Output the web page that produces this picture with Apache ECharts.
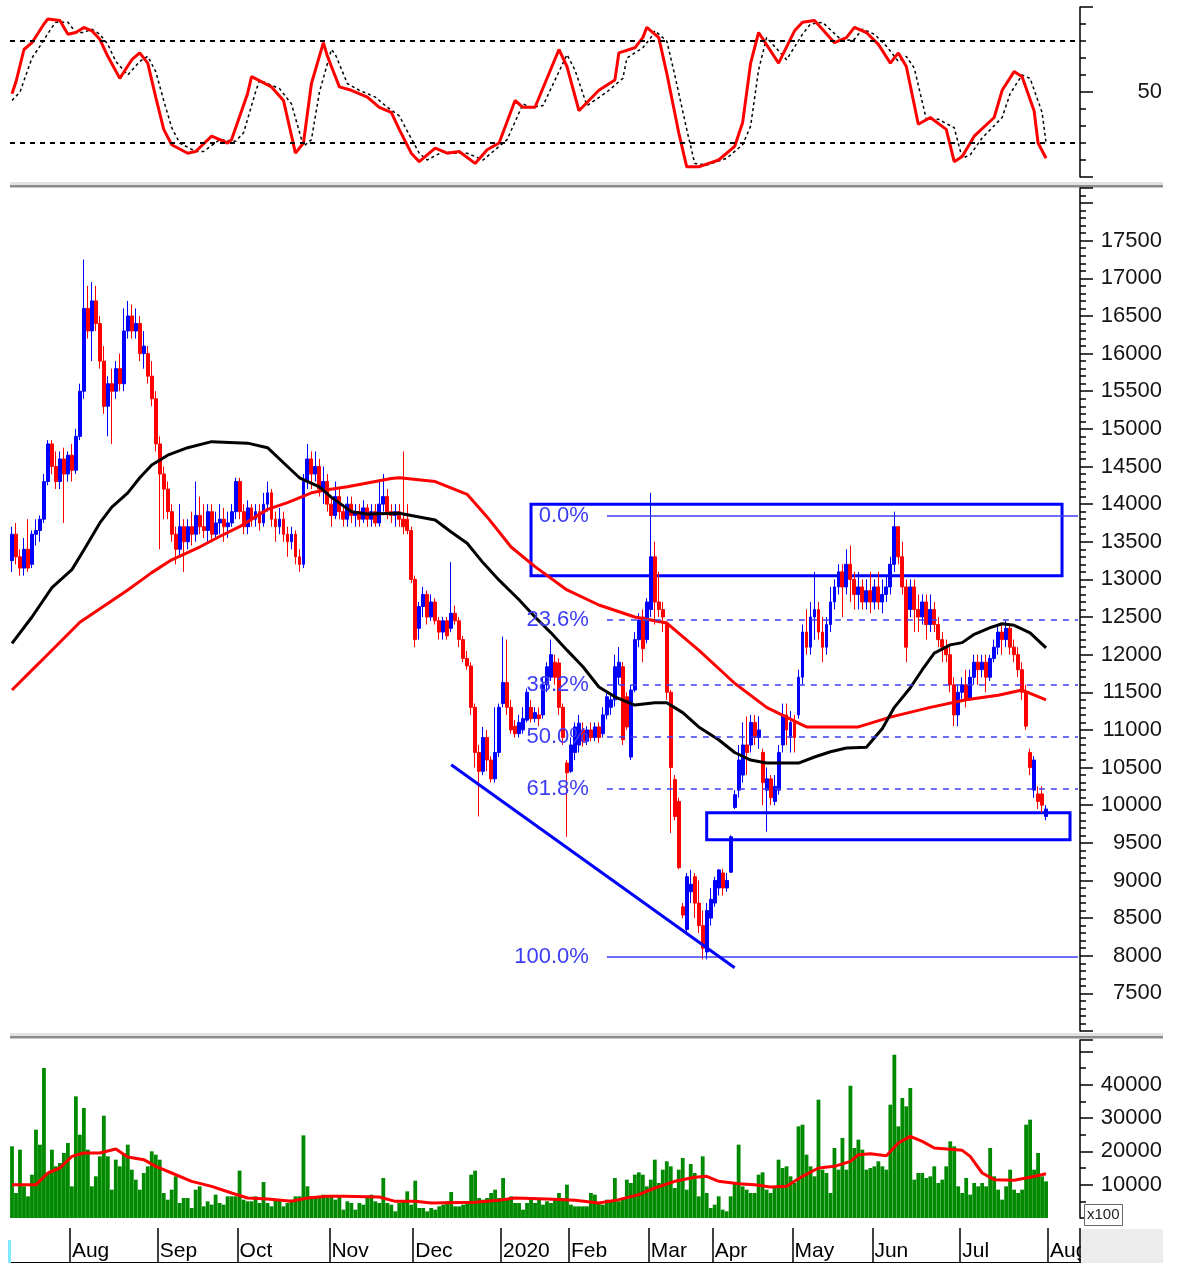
<!DOCTYPE html>
<html>
<head>
<meta charset="utf-8">
<title>Price chart</title>
<script src="https://cdn.jsdelivr.net/npm/echarts@6.0.0/dist/echarts.min.js"></script>
<style>
  html, body { margin: 0; padding: 0; background: #fff; }
  #main { width: 1180px; height: 1263px; }
</style>
</head>
<body>
<div id="main"></div>
<script>
// months shown on the time axis and trading days in each (last one is empty space)
var monthNames = ['Jul', 'Aug', 'Sep', 'Oct', 'Nov', 'Dec', '2020', 'Feb', 'Mar', 'Apr', 'May', 'Jun', 'Jul', 'Aug'];
var monthDays  = [15, 22, 20, 23, 21, 22, 17, 20, 16, 20, 20, 22, 22, 8];

// daily candles, one row per month
var opens = [
  13250,13600,13300,13150,13400,13200,13600,13650,13800,14300,14800,14500,14300,14600,14400,
  14650,14450,14900,15500,16600,16300,16700,16400,15900,15300,15600,15500,15800,15600,16300,16500,16300,16400,16000,16000,15700,15400,
  14800,14400,14200,13900,13600,13400,13700,13500,13700,13600,13850,13700,13650,13900,13600,13750,13800,13700,13750,13900,
  14300,13900,13700,13950,13800,13900,13750,14000,14150,13800,13700,13800,13600,13500,13600,13300,13200,14300,14600,14400,14500,14200,14300,
  14000,13850,14100,13900,13800,14000,13850,13900,13800,13950,13800,13900,13750,14000,14100,13900,13850,13900,13800,13800,13650,
  13000,12350,12640,12800,12500,12700,12450,12300,12450,12350,12550,12450,12200,11950,11850,11300,10700,10450,10900,10600,10350,10700,
  11350,11630,11300,11050,10950,11000,11130,11300,11150,11200,11200,11600,11700,11900,11890,11300,10560,
  10450,10700,10800,11000,10850,11000,10900,11040,10950,11200,11300,11400,11700,11840,11440,10640,11530,12200,12500,12200,
  12600,13300,12700,12600,12400,11500,10340,10050,8650,8350,8850,9050,8700,8400,8050,8500,
  8700,8900,9100,8900,9110,9970,10200,10400,10800,10800,11100,10900,10700,10200,10350,10050,10200,10800,11200,10900,
  11100,11200,11700,12300,12100,12500,12600,12300,12100,12400,12700,12900,13100,12900,13200,13000,12800,12900,12700,12850,
  12700,12900,12700,12800,12900,13200,13700,13300,12900,12600,12900,12600,12500,12700,12400,12600,12400,12200,12100,12000,11600,11200,
  11500,11600,11400,11700,11900,11800,11900,11700,11950,12100,12300,12200,12350,12100,12000,11800,11500,10700,10200,10150,10150,9850
];
var closes = [
  13600,13300,13150,13400,13150,13600,13650,13800,14300,14800,14500,14300,14600,14400,14650,
  14450,14900,15500,16600,16300,16700,16400,15900,15300,15600,15500,15800,15600,16300,16500,16300,16400,16000,16100,15700,15400,14800,
  14400,14200,13900,13600,13400,13700,13500,13700,13600,13850,13700,13650,13900,13600,13750,13800,13700,13750,13900,14300,
  13900,13700,13950,13800,13900,13750,14000,14150,13800,13700,13800,13600,13500,13600,13300,13200,14300,14600,14400,14500,14200,14300,14000,
  13850,14100,13900,13800,14000,13850,13900,13800,13950,13800,13900,13750,14000,14100,13900,13850,13900,13800,13700,13650,13000,
  12200,12640,12800,12500,12700,12450,12300,12450,12250,12550,12450,12200,11950,11850,11300,10700,10450,10900,10600,10350,10700,11300,
  11630,11300,11000,10950,11100,11150,11500,11150,11230,11150,11600,11840,12000,11700,11300,10900,10430,
  10800,11040,11090,10850,11000,10900,11040,10900,11200,11440,11400,11840,11900,10870,11040,11530,12200,12460,12080,12700,
  13300,12700,12600,12500,11500,10500,9850,9170,8540,9050,8950,8700,8400,8100,8600,8750,
  9000,9140,8900,9000,9580,10140,10600,10800,10700,11100,10900,11000,10300,10350,10100,10250,10700,11200,11000,11100,
  10900,11700,12300,12100,12500,12600,12300,12100,12400,12700,12900,13100,12900,13200,13000,12800,12900,12700,12850,12700,
  12900,12700,12800,12900,13200,13700,13300,12900,12100,12900,12600,12500,12700,12400,12600,12400,12200,12100,12000,11600,11200,11500,
  11600,11400,11700,11900,11800,11900,11700,11950,12100,12300,12200,12350,12100,12000,11800,11500,11050,10500,10600,10050,10000,9950
];
var lows = [
  13100,13200,13050,13050,13100,13150,13450,13500,13750,14250,14400,14200,14200,13750,14300,
  14300,14400,14850,15400,16200,15900,16300,15800,15200,14900,14800,15400,15500,15500,16200,16200,16200,15900,15800,15600,15300,14700,
  13400,13800,13800,13500,13200,13300,13100,13400,13450,13500,13600,13550,13500,13500,13550,13600,13500,13550,13700,13800,
  13800,13600,13600,13700,13700,13650,13700,13900,13700,13500,13600,13500,13300,13400,13200,13100,13150,14200,14200,14300,14100,14000,13900,
  13700,13800,13800,13700,13700,13750,13700,13700,13750,13700,13700,13700,13700,13900,13800,13750,13700,13700,13600,13600,12950,
  12100,12200,12500,12400,12450,12400,12200,12200,12200,12300,12400,12100,11900,11800,11200,10500,9850,10400,10450,10300,10300,10640,
  11300,11200,10950,10900,10900,10950,11100,11100,11100,11050,11150,11500,11650,11600,11200,10800,9580,
  10430,10600,10700,10780,10800,10850,10850,10830,10900,11140,11200,11310,11600,10800,11000,10600,11500,12100,11900,12150,
  12500,12400,12500,12300,11400,9630,9800,9150,8500,8300,8700,8500,8300,7950,7950,8400,
  8650,8800,8800,8850,9100,9950,10100,10300,10400,10700,10800,10750,10000,9650,10000,10000,10140,10700,10800,10700,
  10700,11150,11600,12000,12000,12200,12200,11900,12000,12300,12600,12800,12500,12800,12700,12600,12600,12600,12600,12550,
  12600,12600,12550,12700,12800,13100,13200,12800,11900,12500,12300,12300,12400,12200,12300,12300,12100,11900,11900,11500,11050,11050,
  11400,11300,11400,11600,11600,11700,11500,11650,11900,12000,12000,12100,12000,11900,11700,11400,11000,10400,10100,9950,9900,9800
];
var highs = [
  13700,13750,13400,13550,13800,13650,13800,13850,14400,14850,14850,14700,14700,14750,14700,
  14800,15000,15600,17250,16900,16950,16900,16500,16100,15700,15800,15900,16000,16600,16700,16650,16600,16500,16300,16100,15900,15500,
  14900,14500,14300,14000,13700,14000,13800,13800,13900,14300,14100,14000,14000,14000,13900,14000,13950,13900,14000,14350,
  14350,14000,14050,14000,14000,14000,14150,14300,14200,13900,13950,13900,13700,13700,13650,13400,14400,14800,14700,14700,14600,14500,14400,
  14100,14300,14200,14000,14100,14100,14000,14000,14050,14000,14000,14000,14300,14400,14200,14000,14000,14000,14700,14000,13700,
  13050,12700,12900,12850,12800,12750,12500,12500,12500,13230,12650,12500,12250,12050,11900,11350,10800,11040,11000,10650,11300,11350,
  12240,12200,11400,11130,11200,11300,11550,11400,11300,11300,11700,11900,12200,12000,11950,11350,10600,
  10900,11100,11200,11100,11050,11100,11100,11100,11300,11500,11500,12000,12100,11900,11500,11600,12300,12550,12600,12750,
  14150,13500,13100,12700,12450,11530,10400,10100,8700,9100,9140,9100,9000,8600,8700,8900,
  9050,9150,9150,9100,9600,10200,10800,11100,11180,11200,11200,11180,10750,10500,10400,10400,10800,11350,11350,11250,
  11200,11800,12400,12600,12700,13100,12700,12500,12500,12900,13000,13200,13200,13400,13450,13100,13100,13000,13000,13100,
  13000,13100,13000,13050,13300,13900,13700,13500,13000,13000,13000,12800,12800,12800,12800,12700,12500,12300,12200,12100,11700,11600,
  11700,11800,11800,12000,12000,12000,12000,12000,12200,12400,12400,12450,12400,12200,12100,11900,11600,10750,10650,10250,10250,10000
];

// moving averages on the price panel, read as [day, value]
var maBlack = [[0,12150],[5,12500],[10,12890],[15,13130],[18,13390],[22,13750],[25,13960],[29,14150],[32,14350],[35,14520],
  [39,14650],[44,14750],[50,14830],[59,14810],[64,14750],[69,14500],[72,14350],[77,14230],[80,14090],[85,13900],[89,13870],
  [97,13880],[106,13790],[110,13630],[114,13480],[118,13220],[122,12990],[127,12730],[131,12500],[135,12290],[139,12060],
  [143,11840],[147,11570],[151,11440],[156,11330],[161,11360],[164,11360],[168,11230],[172,11040],[177,10870],[181,10700],
  [185,10600],[189,10560],[197,10560],[201,10640],[205,10710],[209,10760],[214,10770],[218,11020],[221,11300],[225,11560],
  [228,11800],[231,12020],[235,12130],[238,12160],[241,12270],[245,12360],[248,12410],[251,12390],[255,12290],[259,12090]];
var maRed = [[0,11530],[7,11900],[17,12430],[29,12860],[35,13090],[40,13260],[47,13430],[52,13570],[57,13700],[64,13930],
  [69,14020],[75,14150],[79,14190],[84,14230],[89,14280],[95,14340],[97,14350],[106,14300],[114,14130],[119,13830],
  [125,13430],[131,13170],[139,12860],[147,12660],[156,12500],[164,12420],[172,12060],[181,11620],[189,11300],[197,11090],
  [199,11040],[212,11040],[220,11170],[230,11300],[239,11400],[247,11460],[253,11530],[259,11400]];

// oscillator (top panel), fast line and its dashed signal
var oscFast = [[0,49],[1,56],[3,75],[5,79],[8,90],[9,93],[12,92],[14,84],[16,85],[18,88],[20,86],[22,81],[24,71],[27,58],
  [30,69],[32,73],[34,67],[36,47],[38,28],[40,19],[44,14],[46,15],[50,24],[54,20],[55,22],[59,49],[60,59],[65,53],[68,45],
  [71,14],[73,20],[75,55],[78,79],[79,71],[82,53],[85,51],[89,47],[92,41],[95,38],[97,28],[100,14],[102,9],[106,17],[109,14],
  [112,15],[116,8],[119,16],[122,20],[126,45],[128,41],[131,41],[137,75],[139,65],[142,39],[147,51],[151,57],[152,73],[156,76],
  [158,82],[159,88],[162,82],[164,61],[167,26],[169,6],[172,6],[177,10],[181,18],[183,32],[185,67],[187,85],[192,67],[196,86],
  [198,91],[201,92],[206,79],[209,82],[211,88],[214,85],[217,78],[220,67],[222,73],[224,65],[227,31],[230,35],[234,28],[236,9],
  [238,12],[241,24],[246,35],[248,51],[251,62],[253,59],[256,39],[257,20],[259,11]];
var oscSlow = [[0,45],[2,50],[5,70],[7,77],[10,88],[11,91],[14,91],[16,85],[18,85],[20,87],[22,84],[24,78],[26,68],[29,60],
  [32,68],[34,71],[36,62],[38,45],[40,29],[42,20],[46,15],[48,15],[52,22],[56,21],[58,26],[61,50],[62,57],[67,52],[70,43],
  [73,18],[75,22],[77,50],[80,75],[81,72],[84,55],[87,51],[91,47],[94,41],[97,36],[99,27],[102,14],[104,10],[108,15],[111,14],
  [114,14],[118,10],[121,16],[124,22],[128,43],[130,41],[133,42],[139,72],[141,63],[144,42],[149,50],[153,58],[154,70],[158,76],
  [160,82],[161,86],[164,80],[166,60],[169,28],[171,8],[174,7],[179,11],[183,19],[185,30],[187,63],[189,82],[194,69],[198,84],
  [200,90],[203,91],[208,80],[211,81],[213,87],[216,84],[219,77],[222,68],[224,71],[226,64],[229,34],[232,34],[236,29],[238,11],
  [240,13],[243,23],[248,35],[250,49],[253,60],[255,58],[258,38],[259,20]];
var oscLevels = [80, 20];

// volume (x100) and its average
var volumes = [
  21500,7500,20500,9500,6500,13000,26500,22000,45000,13500,20500,15500,16500,19500,22500,9500,36500,25000,33000,20500,
  9500,12500,18500,30700,18500,8500,17500,15500,19500,22000,14500,11500,8500,13500,15500,20000,19000,17500,7500,5500,
  8500,12500,4500,6000,6000,3000,8500,9500,3500,5000,4000,7000,4500,4000,6500,6500,6500,14200,
  5500,5000,5000,6500,4500,10800,4500,3500,5500,5500,3500,4500,5500,6500,6500,24800,9500,6500,6000,6500,
  7000,6500,6500,5500,6500,2500,5000,4500,2500,4500,4000,6500,7000,5000,4500,12000,4500,4000,2000,4500,5000,8000,
  4000,11200,3000,3000,2000,3000,2500,3500,4000,5000,7800,3500,3500,4000,5000,13000,14200,6000,5500,6000,
  7500,8500,6000,12000,5500,6500,4500,4500,2500,4500,5500,4500,5500,4000,5000,4500,5500,7500,6000,10000,
  4000,3500,3500,3500,3500,7500,
  7000,4500,4000,5500,5000,12000,5000,6000,11500,10500,13000,13700,13000,9500,11500,17500,10500,14500,17000,15500,
  9000,14500,18000,8500,16200,13500,6500,18500,7500,3000,4000,6500,2500,2000,6500,10500,22000,9500,8500,7500,
  7500,13000,13700,8500,7500,9500,17500,15000,15500,12500,10500,27500,28000,19000,15500,12500,35500,14500,13500,7500,
  21000,14500,24000,14500,39700,21000,23500,20500,14500,15000,15500,17000,15500,14500,34000,49000,27500,36000,33500,39000,
  11500,13500,13500,12000,12500,15500,10500,11500,15500,23000,21500,9500,7500,12000,7000,10500,9500,10500,9500,21000,
  12500,8500,5500,9500,14500,8500,7500,8500,28000,29500,14500,19500,12500,11000
];
var volAvg = [[0,10000],[6,10000],[9,13500],[12,15000],[15,18500],[18,19500],[22,19500],[26,20700],[29,18300],[33,17500],
  [36,15500],[40,13500],[45,11000],[50,9500],[55,7500],[59,6000],[64,5700],[70,5000],[74,6000],[79,6500],[83,6500],[92,6300],
  [96,5000],[101,5000],[105,4500],[116,4700],[122,5300],[126,6000],[134,5700],[141,5300],[147,4500],[152,5500],[157,7000],
  [161,9000],[166,11000],[171,12200],[174,12500],[177,11000],[182,10300],[186,10000],[190,9300],[194,9500],[198,12500],
  [202,15000],[206,15500],[210,17000],[212,19000],[215,19300],[219,18700],[222,22500],[225,24500],[228,23000],[231,21000],
  [238,20300],[240,18500],[243,13500],[246,11500],[251,11300],[255,12200],[259,13300]];

// drawn annotations: fibonacci levels, boxes [dayFrom, dayTo, top, bottom], trend line
var fibNames  = ['0.0%', '23.6%', '38.2%', '50.0%', '61.8%', '100.0%'];
var fibValues = [13840, 12458, 11603, 10912, 10222, 7985];
var fibDays   = [149, 267];
var boxes     = [[130, 263, 14000, 13050], [174, 265, 9900, 9540]];
var trend     = [[110, 10537], [181, 7840]];

// ---- build categories ----
var days = [];
var monthStart = {};
monthDays.forEach(function (n, m) {
  for (var d = 0; d < n; d++) {
    if (d === 0 && m > 0) monthStart[days.length] = monthNames[m];
    days.push(m + '-' + d);
  }
});
var candles = opens.map(function (o, i) { return [o, closes[i], lows[i], highs[i]]; });

var font = 'Liberation Sans, Arial, sans-serif';
var blue = '#0000ff';
var fibBlue = '#3c3cf5';

var fibLines = fibValues.map(function (v, k) {
  var solid = (k === 0 || k === fibValues.length - 1);
  return [
    { coord: [fibDays[0], v], name: fibNames[k],
      lineStyle: { color: fibBlue, width: 1.5, type: solid ? 'solid' : [6, 6] } },
    { coord: [fibDays[1], v] }
  ];
});
fibLines.push([
  { coord: trend[0], name: '', lineStyle: { color: blue, width: 3, type: 'solid' }, label: { show: false } },
  { coord: trend[1] }
]);

function hiddenX(idx) {
  return { type: 'category', gridIndex: idx, data: days, boundaryGap: true, show: false };
}
function rightY(idx, min, max, interval, minorSplit, fmt) {
  return {
    type: 'value', gridIndex: idx, position: 'right', min: min, max: max, interval: interval,
    axisLine: { show: true, lineStyle: { color: '#000', width: 1.5 } },
    axisTick: { show: true, length: 13, lineStyle: { color: '#000', width: 1.5 } },
    minorTick: { show: true, splitNumber: minorSplit, length: 6, lineStyle: { color: '#000', width: 1.5 } },
    splitLine: { show: false },
    axisLabel: { margin: 82, align: 'right', fontSize: 22, fontFamily: font, color: '#141414', formatter: fmt }
  };
}

var chart = echarts.init(document.getElementById('main'));
chart.setOption({
  animation: false,
  backgroundColor: '#fff',
  grid: [
    { left: 10, right: 100, top: 7, height: 170, outerBoundsMode: 'none' },
    { left: 10, right: 100, top: 188, height: 843, outerBoundsMode: 'none' },
    { left: 10, right: 100, top: 1040, height: 178, outerBoundsMode: 'none' },
    { left: 10, right: 100, top: 1228, height: 35, outerBoundsMode: 'none' }
  ],
  xAxis: [
    hiddenX(0), hiddenX(1), hiddenX(2),
    {
      type: 'category', gridIndex: 3, data: days, boundaryGap: true, position: 'top',
      axisLine: { show: true, lineStyle: { color: '#000', width: 2 } },
      axisTick: { show: true, inside: true, length: 9, lineStyle: { color: '#000', width: 1.5 },
        interval: function (i) { return i % 5 === 0; } },
      splitLine: { show: true, lineStyle: { color: '#000', width: 1.5 },
        interval: function (i) { return monthStart[i] !== undefined; } },
      axisLabel: {
        inside: true, margin: 13, align: 'left', verticalAlign: 'top',
        fontSize: 21, fontFamily: font, color: '#000',
        interval: function (i) { return monthStart[i] !== undefined; },
        formatter: function (v, i) { return monthStart[i] || ''; }
      }
    }
  ],
  yAxis: [
    rightY(0, 0, 100, 50, 5, function (v) { return v === 50 ? '50' : ''; }),
    rightY(1, 7000, 18200, 500, 5, function (v) {
      return (v >= 7500 && v <= 17500 && v % 500 === 0) ? String(v) : '';
    }),
    rightY(2, 0, 53400, 10000, 2, function (v) {
      return (v >= 10000 && v <= 40000) ? String(v) : '';
    }),
    { type: 'value', gridIndex: 3, show: false }
  ],
  series: [
    {
      type: 'line', xAxisIndex: 0, yAxisIndex: 0, data: oscSlow, symbol: 'none',
      lineStyle: { color: '#000', width: 1.5, type: [3, 3] }, z: 2,
      markLine: {
        silent: true, symbol: 'none', label: { show: false },
        lineStyle: { color: '#000', width: 1.8, type: [5, 5] },
        data: oscLevels.map(function (v) { return { yAxis: v }; })
      }
    },
    {
      type: 'line', xAxisIndex: 0, yAxisIndex: 0, data: oscFast, symbol: 'none',
      lineStyle: { color: '#ff0000', width: 3 }, z: 3
    },
    {
      type: 'candlestick', xAxisIndex: 1, yAxisIndex: 1, data: candles, barWidth: 3.4,
      itemStyle: { color: blue, color0: '#ff0000', borderColor: blue, borderColor0: '#ff0000', borderWidth: 1 },
      markLine: {
        silent: true, symbol: 'none',
        label: { show: true, position: 'start', distance: 18, formatter: '{b}',
          color: fibBlue, fontSize: 22, fontFamily: font },
        data: fibLines
      },
      markArea: {
        silent: true,
        itemStyle: { color: 'rgba(0,0,0,0)', borderColor: blue, borderWidth: 3 },
        data: boxes.map(function (b) {
          return [{ coord: [b[0], b[2]] }, { coord: [b[1], b[3]] }];
        })
      }
    },
    {
      type: 'line', xAxisIndex: 1, yAxisIndex: 1, data: maRed, symbol: 'none',
      lineStyle: { color: '#ff0000', width: 3 }, z: 4
    },
    {
      type: 'line', xAxisIndex: 1, yAxisIndex: 1, data: maBlack, symbol: 'none',
      lineStyle: { color: '#000', width: 3 }, z: 4
    },
    {
      type: 'bar', xAxisIndex: 2, yAxisIndex: 2, data: volumes, barWidth: 3.8,
      itemStyle: { color: '#008a00' }
    },
    {
      type: 'line', xAxisIndex: 2, yAxisIndex: 2, data: volAvg, symbol: 'none',
      lineStyle: { color: '#ff0000', width: 3 }, z: 4
    },
    { type: 'line', xAxisIndex: 3, yAxisIndex: 3, data: [] }
  ],
  graphic: [
    { type: 'rect', shape: { x: 10, y: 182, width: 1153, height: 3 }, style: { fill: '#e2e2e2' } },
    { type: 'rect', shape: { x: 10, y: 185, width: 1153, height: 2.5 }, style: { fill: '#8c8c8c' } },
    { type: 'rect', shape: { x: 10, y: 1033, width: 1153, height: 3 }, style: { fill: '#e2e2e2' } },
    { type: 'rect', shape: { x: 10, y: 1036, width: 1153, height: 2.5 }, style: { fill: '#8c8c8c' } },
    { type: 'rect', z: 100, shape: { x: 1081, y: 1229, width: 82, height: 34 }, style: { fill: '#ececec' } },
    { type: 'rect', z: 100, shape: { x: 1084.5, y: 1204.5, width: 38, height: 21 },
      style: { fill: '#fff', stroke: '#666', lineWidth: 1 } },
    { type: 'text', z: 101, x: 1087, y: 1207, style: { text: 'x100', fontSize: 15, fontFamily: font, fill: '#222' } },
    { type: 'rect', z: 100, shape: { x: 8, y: 1240, width: 3, height: 23 }, style: { fill: '#7fe8ff' } }
  ]
});
</script>
</body>
</html>
